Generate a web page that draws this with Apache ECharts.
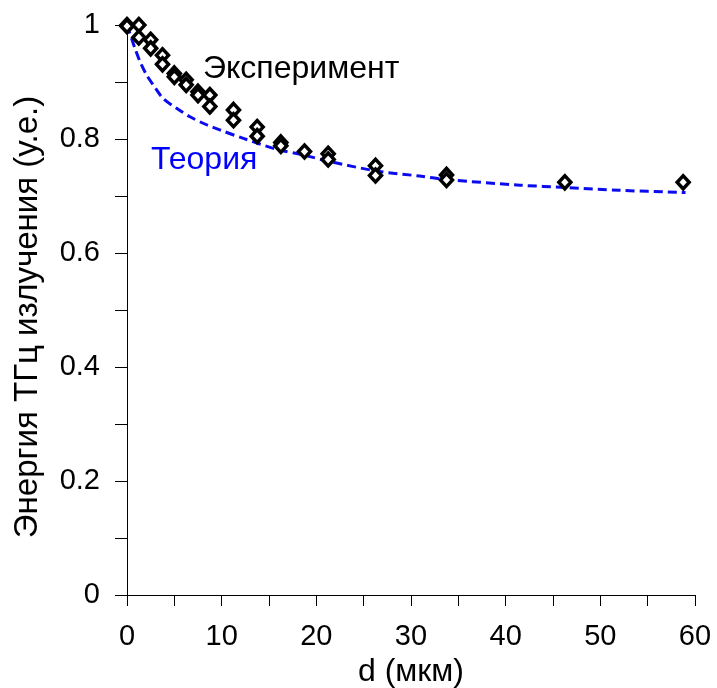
<!DOCTYPE html>
<html>
<head>
<meta charset="utf-8">
<script src="https://cdn.jsdelivr.net/npm/echarts@6/dist/echarts.min.js"></script>
<style>
  html, body { margin: 0; padding: 0; background: #fff; }
  #chart { width: 717px; height: 688px; }
</style>
</head>
<body>
<div id="chart"></div>
<script>
// Measured THz energy vs. thickness d (two measurements per thickness)
const expD = [0, 0, 1.25, 1.25, 2.5, 2.5, 3.75, 3.75, 5, 5, 6.25, 6.25, 7.5, 7.5, 8.75, 8.75,
  11.25, 11.25, 13.75, 13.75, 16.25, 16.25, 18.75, 21.25, 21.25, 26.25, 26.25,
  33.75, 33.75, 46.25, 58.75];
const expE = [1.0, 0.998, 1.0, 0.978, 0.974, 0.959, 0.947, 0.931, 0.915, 0.909, 0.904, 0.895,
  0.883, 0.877, 0.877, 0.857, 0.851, 0.833, 0.821, 0.805, 0.794, 0.788, 0.778,
  0.774, 0.764, 0.753, 0.736, 0.737, 0.728, 0.724, 0.724];

// Theoretical curve
const theoryD = [0, 0.84, 1.37, 2.08, 2.77, 3.83, 5.24, 6.65, 8.4, 9.8, 12.3, 15.8, 18.6,
  21.3, 26.3, 30.9, 33.7, 41.5, 46.4, 52, 59];
const theoryE = [1.0, 0.959, 0.936, 0.912, 0.895, 0.871, 0.854, 0.839, 0.825, 0.816, 0.801,
  0.782, 0.772, 0.761, 0.744, 0.735, 0.729, 0.719, 0.715, 0.710, 0.706];

const xLabels = [0, 10, 20, 30, 40, 50, 60];
const yLabels = [0, 0.2, 0.4, 0.6, 0.8, 1];

const FONT = '"Liberation Sans", Arial, sans-serif';

const chart = echarts.init(document.getElementById('chart'), null, { renderer: 'canvas' });

const near = (v, list) => list.some(t => Math.abs(t - v) < 1e-6);

chart.setOption({
  animation: false,
  backgroundColor: '#ffffff',
  grid: { left: 127, right: 22, top: 25, bottom: 93, containLabel: false, outerBoundsMode: 'none' },
  xAxis: {
    type: 'value', min: 0, max: 60, interval: 5,
    name: 'd (мкм)', nameLocation: 'middle', nameGap: 58,
    nameTextStyle: { fontFamily: FONT, fontSize: 32, color: '#000' },
    axisLine: { onZero: false, lineStyle: { color: '#000', width: 1 } },
    axisTick: { show: true, inside: false, length: 11, lineStyle: { color: '#000' } },
    axisLabel: {
      margin: 27, fontFamily: FONT, fontSize: 29, color: '#000',
      formatter: v => near(v, xLabels) ? String(v) : ''
    },
    splitLine: { show: false }
  },
  yAxis: {
    type: 'value', min: 0, max: 1, interval: 0.1,
    name: 'Энергия ТГц излучения (у.е.)', nameLocation: 'middle', nameGap: 83,
    nameTextStyle: { fontFamily: FONT, fontSize: 33, color: '#000', padding: [0, 14, 0, 0] },
    axisLine: { onZero: false, lineStyle: { color: '#000', width: 1 } },
    axisTick: { show: true, inside: false, length: 12, lineStyle: { color: '#000' } },
    axisLabel: {
      margin: 27, fontFamily: FONT, fontSize: 29, color: '#000',
      formatter: v => near(v, yLabels) ? String(+v.toFixed(1)) : ''
    },
    splitLine: { show: false }
  },
  series: [
    {
      name: 'Теория', type: 'line', smooth: 0.3,
      data: theoryD.map((d, i) => [d, theoryE[i]]),
      showSymbol: false, z: 2,
      lineStyle: { color: '#0b0bf0', width: 3, type: [9, 5] }
    },
    {
      name: 'Эксперимент', type: 'scatter',
      data: expD.map((d, i) => [d, expE[i]]),
      symbol: 'diamond', symbolSize: [12, 13], z: 3,
      itemStyle: { color: '#ffffff', borderColor: '#000000', borderWidth: 3.5, opacity: 1 }
    }
  ],
  graphic: [
    { type: 'text', left: 203, top: 53,
      style: { text: 'Эксперимент', font: '32px ' + FONT, fill: '#000' } },
    { type: 'text', left: 151, top: 144,
      style: { text: 'Теория', font: '32px ' + FONT, fill: '#0000ff' } }
  ]
});
</script>
</body>
</html>
